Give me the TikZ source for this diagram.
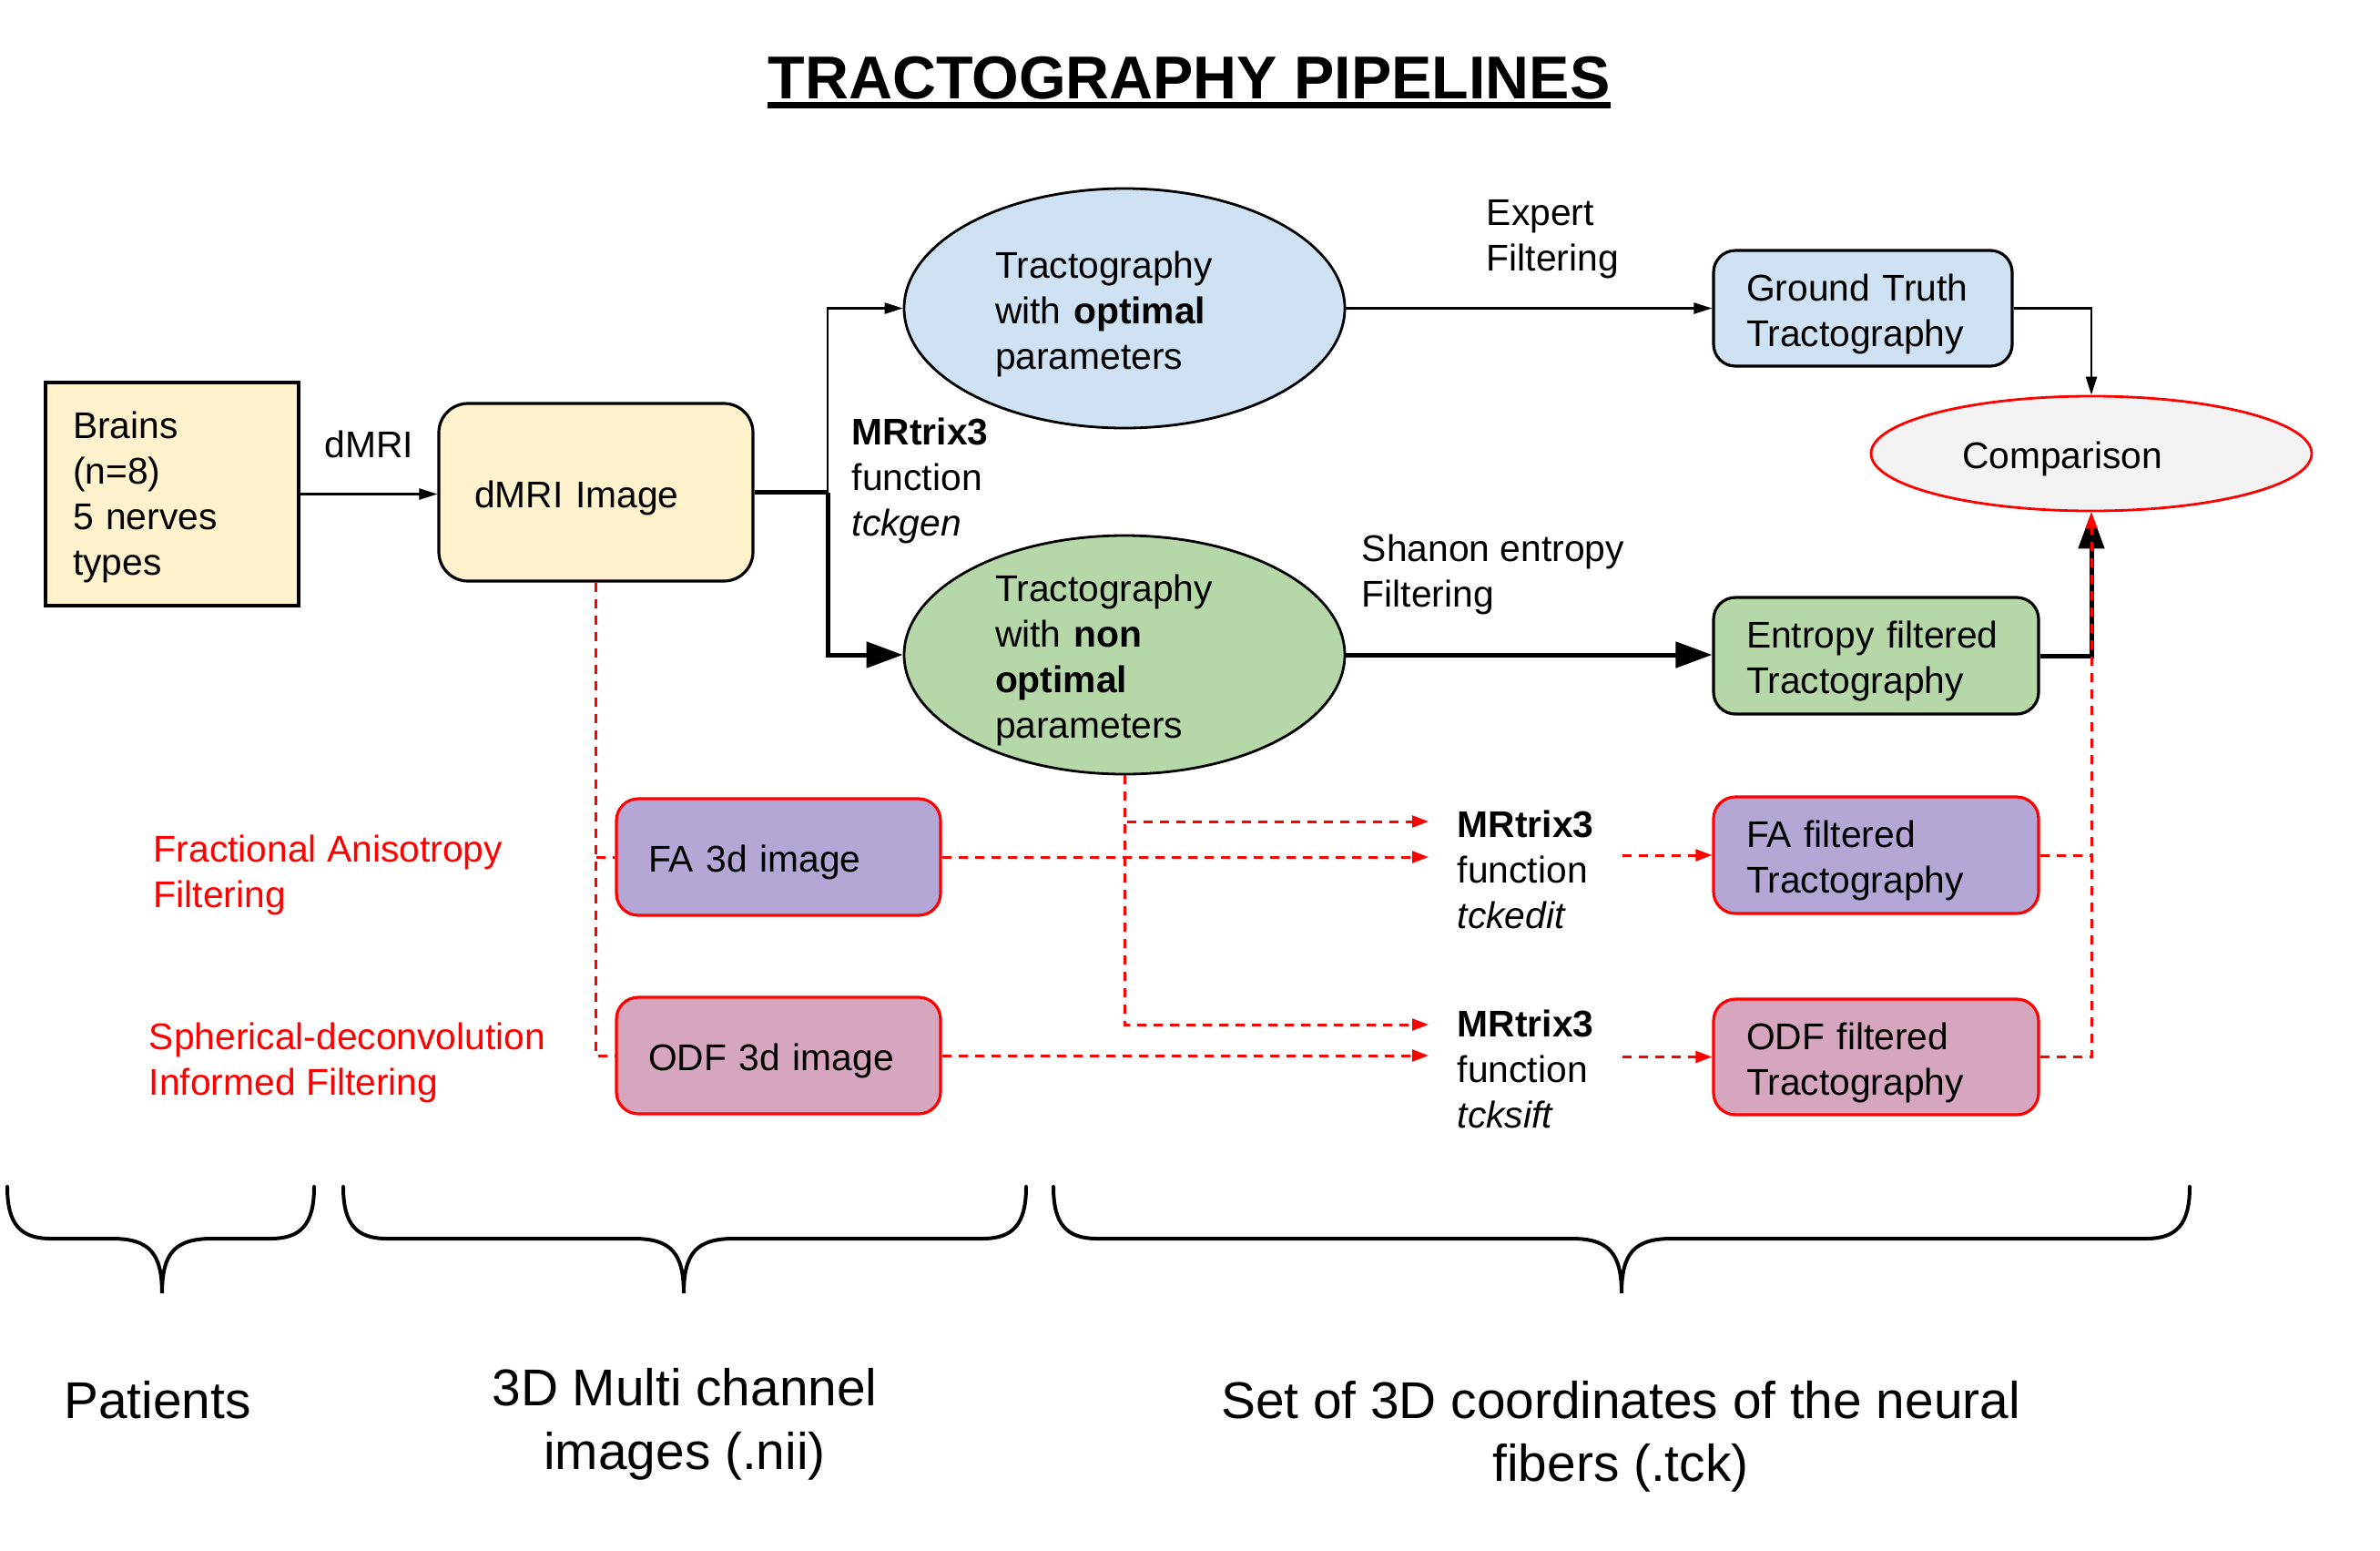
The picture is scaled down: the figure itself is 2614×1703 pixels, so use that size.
\documentclass[tikz,border=0pt]{standalone}
\usepackage{fontspec}
\setmainfont{Liberation Sans}
\usetikzlibrary{arrows.meta,shapes.geometric,calc}
\definecolor{cream}{HTML}{FFF2CC}
\definecolor{lblue}{HTML}{CFE2F3}
\definecolor{lgreen}{HTML}{B6D7A8}
\definecolor{lpurple}{HTML}{B4A7D6}
\definecolor{lpink}{HTML}{D5A6BD}
\definecolor{lgray}{HTML}{F3F3F3}
\definecolor{myred}{HTML}{FF0000}
\newcommand{\mainfs}{\fontsize{10.2pt}{12.5pt}\selectfont}
\newcommand{\bigfs}{\fontsize{14.2pt}{17.3pt}\selectfont}
\newcommand{\tstrut}{\rule{0pt}{10.4pt}}
\begin{document}
\begin{tikzpicture}[x=0.25pt,y=-0.25pt,
  txt/.style={font=\mainfs, inner sep=0pt, align=left},
  boxbase/.style={rectangle, font=\mainfs, align=left, inner ysep=0pt, line width=0.8pt},
  blackbox/.style={boxbase, draw=black, rounded corners=6pt},
  redbox/.style={boxbase, draw=myred, rounded corners=6pt},
  ellnode/.style={ellipse, font=\mainfs, align=left, inner sep=-3pt, text width=71pt, line width=0.7pt},
  thinarr/.style={line width=0.6pt, -{Triangle[length=5pt,width=3pt]}},
  thickln/.style={line width=1.25pt},
  thickarr/.style={line width=1.25pt, -{Triangle[length=10pt,width=7pt]}},
  rdash/.style={draw=myred, line width=0.75pt, dash pattern=on 2.5pt off 2pt},
  rdarr/.style={rdash, -{Triangle[length=4.5pt,width=3.2pt]}, myred},
  bracestyle/.style={line width=1pt, line cap=round}
]
\useasboundingbox (0,0) rectangle (2614,1703);

% title
\node[font=\fontsize{16.6pt}{20pt}\selectfont\bfseries, inner sep=0pt, anchor=base] (title) at (1306,108) {TRACTOGRAPHY PIPELINES};
\draw[line width=1.75pt] ([yshift=-1.9pt]title.base west) -- ([yshift=-1.9pt]title.base east);

% main boxes
\node[boxbase, draw=black, fill=cream, minimum width=69.5pt, minimum height=61.25pt, text width=54.5pt, inner xsep=7.5pt] (brains) at (189,542.5) {\rule{0pt}{8.9pt}Brains\\(n=8)\\5 nerves\\types};
\node[blackbox, fill=cream, rounded corners=8pt, minimum width=86.25pt, minimum height=48.75pt, text width=66.75pt, inner xsep=9.75pt] (dmri) at (654.5,540.5) {\tstrut dMRI Image};

\node[ellnode, draw=black, fill=lblue, minimum width=121pt, minimum height=65.75pt] (ell1) at (1235,338.5) {\tstrut Tractography\\with \textbf{optimal}\\parameters};
\node[ellnode, draw=black, fill=lgreen, minimum width=121pt, minimum height=65.5pt] (ell2) at (1235,719) {\tstrut Tractography\\with \textbf{non}\\\textbf{optimal}\\parameters};

\node[blackbox, fill=lblue, minimum width=82pt, minimum height=31.75pt, text width=64pt, inner xsep=9pt] (gt) at (2046,338.5) {\tstrut Ground Truth\\Tractography};
\node[blackbox, fill=lgreen, minimum width=89.25pt, minimum height=32pt, text width=71.25pt, inner xsep=9pt] (ent) at (2060.5,720) {\tstrut Entropy filtered\\Tractography};
\node[ellnode, draw=myred, fill=lgray, minimum width=121pt, minimum height=31.5pt] (comp) at (2297,498) {\tstrut Comparison};

\node[redbox, fill=lpurple, minimum width=89pt, minimum height=32pt, text width=71.5pt, inner xsep=8.75pt] (fa3d) at (855,941) {\tstrut FA 3d image};
\node[redbox, fill=lpink, minimum width=89pt, minimum height=32pt, text width=71.5pt, inner xsep=8.75pt] (odf3d) at (855,1159) {\tstrut ODF 3d image};
\node[redbox, fill=lpurple, minimum width=89.25pt, minimum height=32pt, text width=71.25pt, inner xsep=9pt] (fafilt) at (2060.5,939) {\tstrut FA filtered\\Tractography};
\node[redbox, fill=lpink, minimum width=89.25pt, minimum height=31.75pt, text width=71.25pt, inner xsep=9pt] (odffilt) at (2060.5,1160.5) {\tstrut ODF filtered\\Tractography};

% labels
\node[txt, anchor=base west] (dmrilbl) at (356,502) {dMRI};
\node[txt, anchor=north west] (tckgen) at (935,458.6) {\textbf{MRtrix3}\\function\\\textit{tckgen}};
\node[txt, anchor=north west] (expert) at (1632,218.6) {Expert\\Filtering};
\node[txt, anchor=north west] (shanon) at (1495,586) {Shanon entropy\\Filtering};
\node[txt, anchor=north west, text=myred] (falbl) at (168,916.6) {Fractional Anisotropy\\Filtering};
\node[txt, anchor=north west, text=myred] (sdlbl) at (163,1122) {Spherical-deconvolution\\Informed Filtering};
\node[txt, anchor=north west, inner xsep=7.75pt] (mr1) at (1569,889.6) {\textbf{MRtrix3}\\function\\\textit{tckedit}};
\node[txt, anchor=north west, inner xsep=7.75pt] (mr2) at (1569,1108.6) {\textbf{MRtrix3}\\function\\\textit{tcksift}};

% black connectors
\coordinate (jn) at (909,540.5);
\draw[thinarr] (brains.east) -- (brains.east -| dmri.west);
\draw[thickln] (dmri.east) -- (jn);
\draw[thinarr] (jn) |- (ell1.west);
\draw[thickarr] (jn) |- (ell2.west);
\draw[thinarr] (ell1.east) -- (gt.west);
\draw[thinarr] (gt.east) -| (comp.north);
\draw[thickarr] (ell2.east) -- (ell2.east -| ent.west);
\draw[thickarr] (ent.east) -| (comp.south);

% red connectors
\draw[rdash] (dmri.south) |- (odf3d.west);
\draw[rdash] (dmri.south |- fa3d.west) -- (fa3d.west);
\draw[rdarr] (fa3d.east) -- (fa3d.east -| mr1.west);
\draw[rdarr] (odf3d.east) -- (odf3d.east -| mr2.west);
\draw[rdarr] (ell2.south) |- ([yshift=-3.1pt]mr1.north west);
\draw[rdarr] (ell2.south) |- ([yshift=-4.1pt]mr2.north west);
\draw[rdarr] (mr1.east |- fafilt.west) -- (fafilt.west);
\draw[rdarr] (mr2.east |- odffilt.west) -- (odffilt.west);
\draw[rdash] (fafilt.east) -- (fafilt.east -| comp.south);
\draw[rdarr] (odffilt.east) -| (comp.south);

% braces
\foreach \a/\m/\b in {8/178/345,377/751/1127,1157/1781/2405}{
  \draw[bracestyle] (\a,1303) .. controls (\a,1345) and ({\a+15},1360) .. ({\a+48},1360)
    -- ({\m-55},1360) .. controls ({\m-15},1360) and (\m,1375) .. (\m,1420)
    .. controls (\m,1375) and ({\m+15},1360) .. ({\m+55},1360)
    -- ({\b-48},1360) .. controls ({\b-15},1360) and (\b,1345) .. (\b,1303);
}

% bottom labels
\node[font=\bigfs, inner sep=0pt, anchor=base] (patients) at (173,1557) {Patients};
\node[font=\bigfs, inner sep=0pt, align=center, anchor=north] (nii) at (752,1502) {3D Multi channel\\images (.nii)};
\node[font=\bigfs, inner sep=0pt, align=center, anchor=north] (tck) at (1780,1515.5) {Set of 3D coordinates of the neural\\fibers (.tck)};
\end{tikzpicture}
\end{document}
